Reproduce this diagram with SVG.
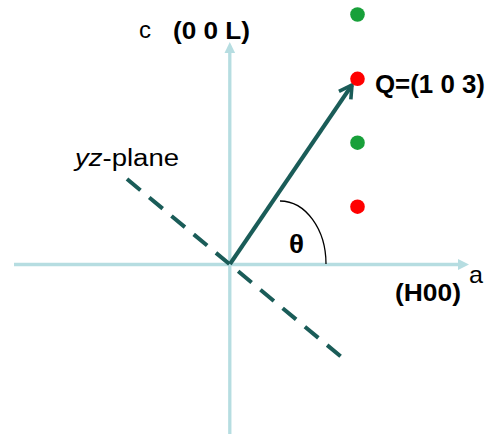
<svg xmlns="http://www.w3.org/2000/svg" width="485" height="434" viewBox="0 0 485 434">
  <style>
    .axis { stroke: #b6dde1; stroke-width: 3.3; fill: none; }
    .axhead { fill: #b6dde1; }
    .vec { stroke: #1a5c58; stroke-width: 4; fill: none; }
    .dash { stroke: #1a5c58; stroke-width: 4; fill: none; stroke-dasharray: 17.5 11.4; }
    .arc { stroke: #000; stroke-width: 1.3; fill: none; }
    .lbl { font-family: "Liberation Sans", Arial, sans-serif; fill: #000; }
    .b { font-weight: bold; }
    .g { fill: #18a03a; }
    .r { fill: #ff0000; }
  </style>
  <defs>
    <marker id="chev" viewBox="0 0 10 10" refX="8" refY="5" markerWidth="4.5" markerHeight="4.5" orient="auto" markerUnits="strokeWidth">
      <path d="M1,1 L8,5 L1,9" fill="none" stroke="#1a5c58" stroke-width="2"/>
    </marker>
  </defs>
  <g id="connectors">
    <g id="axis-a">
      <line class="axis" x1="14" y1="264.5" x2="459" y2="264.5"/>
      <polygon class="axhead" points="469,264.5 458,259 458,270"/>
    </g>
    <g id="axis-c">
      <line class="axis" x1="229.8" y1="434" x2="229.8" y2="52"/>
      <polygon class="axhead" points="229.8,42 224.5,53 235.1,53"/>
    </g>
    <line id="yz-plane-line" class="dash" x1="127" y1="179" x2="342" y2="357.5"/>
    <line id="vector-Q" class="vec" x1="230" y1="264" x2="352" y2="85" marker-end="url(#chev)"/>
    <path id="theta-arc" class="arc" d="M280,201 A46,63 0 0 1 326,264"/>
  </g>
  <g id="dot1"><circle class="g" cx="357.5" cy="14.5" r="7.3"/></g>
  <g id="dotQ"><circle class="r" cx="357.5" cy="78.8" r="7.3"/></g>
  <g id="dot3"><circle class="g" cx="357.5" cy="142.7" r="7.3"/></g>
  <g id="dot4"><circle class="r" cx="357.5" cy="206.7" r="7.3"/></g>
  <g id="labels">
    <text class="lbl" x="139" y="38" font-size="23" textLength="12" lengthAdjust="spacingAndGlyphs">c</text>
    <text class="lbl b" x="173" y="38.5" font-size="23" textLength="77" lengthAdjust="spacingAndGlyphs">(0 0 L)</text>
    <text class="lbl b" x="375" y="92.5" font-size="25" textLength="110" lengthAdjust="spacingAndGlyphs">Q=(1 0 3)</text>
    <text class="lbl" x="75" y="166" font-size="23" textLength="104" lengthAdjust="spacingAndGlyphs"><tspan font-style="italic">yz</tspan>-plane</text>
    <text class="lbl b" x="289" y="252.5" font-size="25" textLength="15" lengthAdjust="spacingAndGlyphs">θ</text>
    <text class="lbl" x="469" y="283" font-size="24" textLength="14" lengthAdjust="spacingAndGlyphs">a</text>
    <text class="lbl b" x="395" y="300.5" font-size="24" textLength="66" lengthAdjust="spacingAndGlyphs">(H00)</text>
  </g>
</svg>
